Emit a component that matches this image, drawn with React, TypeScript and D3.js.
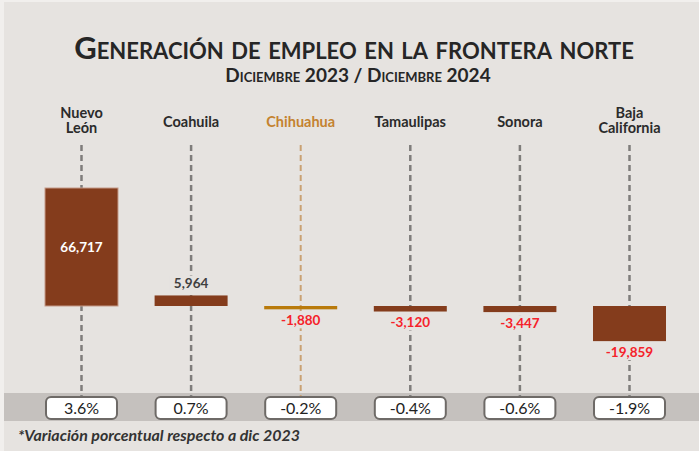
import { useEffect, useRef } from 'react'
import * as d3 from 'd3'

const W = 699
const H = 451

const STATES = ['Nuevo León', 'Coahuila', 'Chihuahua', 'Tamaulipas', 'Sonora', 'Baja California']
const LABEL_LINES = [['Nuevo', 'León'], ['Coahuila'], ['Chihuahua'], ['Tamaulipas'], ['Sonora'], ['Baja', 'California']]
const EMPLEOS = [66717, 5964, -1880, -3120, -3447, -19859]
const VARIACION = ['3.6%', '0.7%', '-0.2%', '-0.4%', '-0.6%', '-1.9%']
const HIGHLIGHT = 'Chihuahua'

const BG = '#e6e3e0'
const BROWN = '#843c1c'
const GOLD = '#b97a0b'
const FONT = 'Lato, "Open Sans", sans-serif'

// hyphen instead of the unicode minus
const fmt = d3.formatLocale({ decimal: '.', thousands: ',', grouping: [3], currency: ['$', ''], minus: '-' }).format(',')

export default function App() {
  const svgRef = useRef<SVGSVGElement | null>(null)

  useEffect(() => {
    document.body.style.margin = '0'
    const svg = d3.select(svgRef.current)
    svg.selectAll('*').remove()
    svg.attr('width', W).attr('height', H)

    // backgrounds
    svg.append('rect').attr('width', W).attr('height', H).attr('fill', '#f1efed')
    svg.append('rect').attr('x', 4).attr('y', 2).attr('width', W - 4).attr('height', H - 2).attr('fill', BG)
    svg.append('rect').attr('x', 4).attr('y', 393).attr('width', W - 4).attr('height', 28).attr('fill', '#c5c1be')

    // title
    svg.append('text')
      .attr('x', 354).attr('y', 59)
      .attr('text-anchor', 'middle')
      .attr('font-family', FONT).attr('font-weight', 700).attr('font-size', 31)
      .style('font-variant', 'small-caps')
      .attr('fill', '#262626')
      .text('Generación de empleo en la frontera norte')
    svg.append('text')
      .attr('x', 358).attr('y', 82)
      .attr('text-anchor', 'middle')
      .attr('font-family', FONT).attr('font-weight', 700).attr('font-size', 19)
      .style('font-variant', 'small-caps')
      .attr('fill', '#262626')
      .text('Diciembre 2023 / Diciembre 2024')

    const x = d3.scaleBand<string>().domain(STATES).range([45, 666]).paddingInner(0.334).paddingOuter(0)
    const y = d3.scaleLinear().domain([0, 66717]).range([306, 188])
    const cx = (s: string) => (x(s) ?? 0) + x.bandwidth() / 2

    const g = svg.append('g')

    // category labels
    STATES.forEach((s, i) => {
      const lines = LABEL_LINES[i]
      const t = g.append('text')
        .attr('text-anchor', 'middle')
        .attr('font-family', FONT).attr('font-weight', 700).attr('font-size', 14.5)
        .attr('fill', s === HIGHLIGHT ? '#c4822f' : '#2b2b2b')
      const y0 = lines.length === 1 ? 127 : 118
      lines.forEach((ln, j) => {
        t.append('tspan').attr('x', cx(s)).attr('y', y0 + j * 15).text(ln)
      })
    })

    // dashed guides
    g.selectAll('line.guide')
      .data(STATES)
      .join('line')
      .attr('class', 'guide')
      .attr('x1', d => cx(d)).attr('x2', d => cx(d))
      .attr('y1', 145).attr('y2', 397)
      .attr('stroke', d => d === HIGHLIGHT ? '#c9a173' : '#7f7d7b')
      .attr('stroke-width', d => d === HIGHLIGHT ? 2 : 2.5)
      .attr('stroke-dasharray', '6 4')

    // bars
    g.selectAll('rect.bar')
      .data(STATES)
      .join('rect')
      .attr('class', 'bar')
      .attr('x', d => x(d) ?? 0)
      .attr('width', x.bandwidth())
      .attr('y', (d, i) => y(Math.max(0, EMPLEOS[i])))
      .attr('height', (d, i) => Math.abs(y(EMPLEOS[i]) - y(0)))
      .attr('fill', d => d === HIGHLIGHT ? GOLD : BROWN)
      .attr('stroke', (d, i) => i === 0 ? '#c49a88' : 'none')
      .attr('stroke-width', 1)

    // value labels
    STATES.forEach((s, i) => {
      const v = EMPLEOS[i]
      const top = y(Math.max(0, v))
      const bot = y(Math.min(0, v))
      let ly: number, fill: string, bg = true
      if (v > 30000) { ly = (top + bot) / 2; fill = '#ffffff'; bg = false }
      else if (v >= 0) { ly = top - 12; fill = '#404040' }
      else { ly = bot + 11; fill = '#f5222a' }
      const label = fmt(v)
      if (bg) {
        const tw = label.length * 7.5 + 6
        g.append('rect')
          .attr('x', cx(s) - tw / 2).attr('y', ly - 8)
          .attr('width', tw).attr('height', 16)
          .attr('fill', BG)
      }
      g.append('text')
        .attr('x', cx(s)).attr('y', ly)
        .attr('dy', '0.35em')
        .attr('text-anchor', 'middle')
        .attr('font-family', FONT).attr('font-weight', 700).attr('font-size', 13.5)
        .attr('fill', fill)
        .text(label)
    })

    // percentage boxes
    STATES.forEach((s, i) => {
      g.append('rect')
        .attr('x', (x(s) ?? 0) + 1).attr('y', 397)
        .attr('width', x.bandwidth() - 2).attr('height', 22)
        .attr('rx', 5)
        .attr('fill', '#ffffff')
        .attr('stroke', '#6e6a67').attr('stroke-width', 2)
      g.append('text')
        .attr('x', cx(s)).attr('y', 408.5)
        .attr('dy', '0.35em')
        .attr('text-anchor', 'middle')
        .attr('font-family', FONT).attr('font-size', 16)
        .attr('fill', '#222')
        .text(VARIACION[i])
    })

    // footnote
    svg.append('text')
      .attr('x', 18).attr('y', 441)
      .attr('font-family', FONT).attr('font-weight', 700).attr('font-style', 'italic').attr('font-size', 16)
      .attr('fill', '#333')
      .attr('textLength', 282).attr('lengthAdjust', 'spacingAndGlyphs')
      .text('*Variación porcentual respecto a dic 2023')
  }, [])

  return <svg ref={svgRef} style={{ position: 'absolute', left: 0, top: 0, display: 'block' }} />
}
